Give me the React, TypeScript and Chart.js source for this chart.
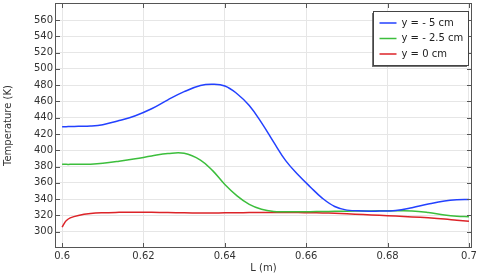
import { useEffect, useRef } from 'react';
import { Chart, registerables } from 'chart.js';

Chart.register(...registerables);

const L = [0.6, 0.6005, 0.601, 0.602, 0.604, 0.607, 0.61, 0.614, 0.618, 0.622, 0.626, 0.63, 0.634, 0.637, 0.64, 0.643, 0.646, 0.649, 0.652, 0.655, 0.658, 0.661, 0.664, 0.667, 0.67, 0.674, 0.678, 0.682, 0.686, 0.69, 0.694, 0.697, 0.7];
const tBlue = [429, 429, 429, 429.2, 429.4, 429.8, 431.5, 436.5, 442.5, 451, 462, 472, 479.5, 481, 479, 469.5, 455, 434, 410, 387, 370, 355, 341, 331, 326.5, 325.5, 325.3, 326, 329.5, 334, 337.8, 339.3, 339.7];
const tGreen = [382.7, 382.7, 382.7, 382.7, 382.8, 383, 384, 386.5, 389.5, 393, 396, 396.3, 388, 375, 358, 344, 333.5, 327.5, 324.8, 324.5, 324.5, 324.6, 324.8, 325, 325.2, 325.4, 325.6, 325.7, 325.5, 323.5, 320.5, 319, 318.4];
const tRed = [305.5, 310, 313.5, 317, 320, 322.3, 323.3, 323.8, 324, 323.8, 323.5, 323.2, 323, 323, 323.2, 323.3, 323.5, 323.6, 323.7, 323.7, 323.5, 323.3, 323, 322.6, 322, 321, 320.2, 319.2, 318.2, 317, 315.5, 314, 312.7];
const seriesLabels = ['y = - 5 cm', 'y = - 2.5 cm', 'y = 0 cm'];
const seriesColors = ['rgb(35,65,255)', 'rgb(60,190,60)', 'rgb(220,35,40)'];
const xTicks = [0.6, 0.62, 0.64, 0.66, 0.68, 0.7];
const xTickLabels = ['0.6', '0.62', '0.64', '0.66', '0.68', '0.7'];
const yTicks = [300, 320, 340, 360, 380, 400, 420, 440, 460, 480, 500, 520, 540, 560];

const FONT = 'DejaVu Sans';

const framePlugin = {
  id: 'frame',
  afterDraw(chart: any) {
    const { ctx, chartArea: a, scales } = chart;
    ctx.save();
    ctx.strokeStyle = '#555';
    ctx.lineWidth = 1;
    ctx.beginPath();
    for (const v of xTicks) {
      const x = Math.round(scales.x.getPixelForValue(v)) + 0.5;
      ctx.moveTo(x, a.bottom);
      ctx.lineTo(x, a.bottom - 4);
      ctx.moveTo(x, a.top);
      ctx.lineTo(x, a.top + 4);
    }
    for (const v of yTicks) {
      const y = Math.round(scales.y.getPixelForValue(v)) + 0.5;
      ctx.moveTo(a.left, y);
      ctx.lineTo(a.left + 4, y);
      ctx.moveTo(a.right, y);
      ctx.lineTo(a.right - 4, y);
    }
    ctx.stroke();
    ctx.strokeRect(Math.round(a.left) - 0.5, Math.round(a.top) - 0.5, Math.round(a.right - a.left) + 1, Math.round(a.bottom - a.top) + 1);

    // legend
    const bx = Math.round(a.right) - 97.5;
    const by = Math.round(a.top) + 7.5;
    const bw = 95;
    const bh = 54;
    ctx.fillStyle = 'rgba(80,80,80,0.8)';
    ctx.fillRect(bx - 1.5, by + 1.5, bw, bh);
    ctx.fillStyle = '#fff';
    ctx.fillRect(bx, by, bw, bh);
    ctx.strokeStyle = '#444';
    ctx.strokeRect(bx, by, bw, bh);
    ctx.font = `10px "${FONT}"`;
    ctx.textBaseline = 'middle';
    ctx.textAlign = 'left';
    chart.data.datasets.forEach((ds: any, i: number) => {
      const y = by + 11.5 + i * 15.5;
      ctx.strokeStyle = ds.borderColor;
      ctx.lineWidth = 1.5;
      ctx.beginPath();
      ctx.moveTo(bx + 6, y);
      ctx.lineTo(bx + 23, y);
      ctx.stroke();
      ctx.fillStyle = '#222';
      ctx.fillText(ds.label, bx + 28, y);
    });
    ctx.restore();
  },
};

export default function App() {
  const ref = useRef<HTMLCanvasElement>(null);
  useEffect(() => {
    if (!ref.current) return;
    const mk = (vals: number[]) => L.map((x, i) => ({ x, y: vals[i] }));
    const chart = new Chart(ref.current, {
      type: 'line',
      data: {
        datasets: [tBlue, tGreen, tRed].map((vals, i) => ({
          label: seriesLabels[i],
          data: mk(vals),
          borderColor: seriesColors[i],
          backgroundColor: seriesColors[i],
          borderWidth: 1.5,
          pointRadius: 0,
          tension: 0.4,
          fill: false,
        })),
      },
      options: {
        animation: false,
        responsive: false,
        layout: { padding: { left: 0, top: 4, right: 9, bottom: 0 } },
        plugins: { legend: { display: false }, tooltip: { enabled: false } },
        scales: {
          x: {
            type: 'linear',
            min: 0.5985,
            max: 0.7005,
            grid: { color: '#e6e6e6', drawTicks: false },
            border: { display: false },
            ticks: {
              padding: 3,
              color: '#333',
              font: { family: FONT, size: 10 },
              callback: (_v: any, i: number) => xTickLabels[i],
            },
            afterBuildTicks: (s: any) => {
              s.ticks = xTicks.map((v) => ({ value: v }));
            },
            afterFit: (s: any) => {
              s.height = 29;
              s.paddingLeft = 0;
              s.paddingRight = 0;
            },
            title: {
              display: true,
              text: 'L (m)',
              color: '#333',
              font: { family: FONT, size: 10 },
              padding: { top: 0, bottom: 2 },
            },
          },
          y: {
            type: 'linear',
            min: 281.2,
            max: 579.7,
            grid: { color: '#e6e6e6', drawTicks: false },
            border: { display: false },
            ticks: {
              padding: 3,
              color: '#333',
              font: { family: FONT, size: 10 },
              callback: (v: any) => String(v),
            },
            afterBuildTicks: (s: any) => {
              s.ticks = yTicks.map((v) => ({ value: v }));
            },
            afterFit: (s: any) => {
              s.width = 56;
              s.paddingTop = 0;
              s.paddingBottom = 0;
            },
            title: {
              display: true,
              text: 'Temperature (K)',
              color: '#333',
              font: { family: FONT, size: 10 },
              padding: { top: 2, bottom: 0 },
            },
          },
        },
      },
      plugins: [framePlugin],
    });
    return () => chart.destroy();
  }, []);
  return (
    <div style={{ position: 'fixed', left: 0, top: 0, width: 480, height: 276, background: '#fff' }}>
      <canvas ref={ref} width={480} height={276} />
    </div>
  );
}
